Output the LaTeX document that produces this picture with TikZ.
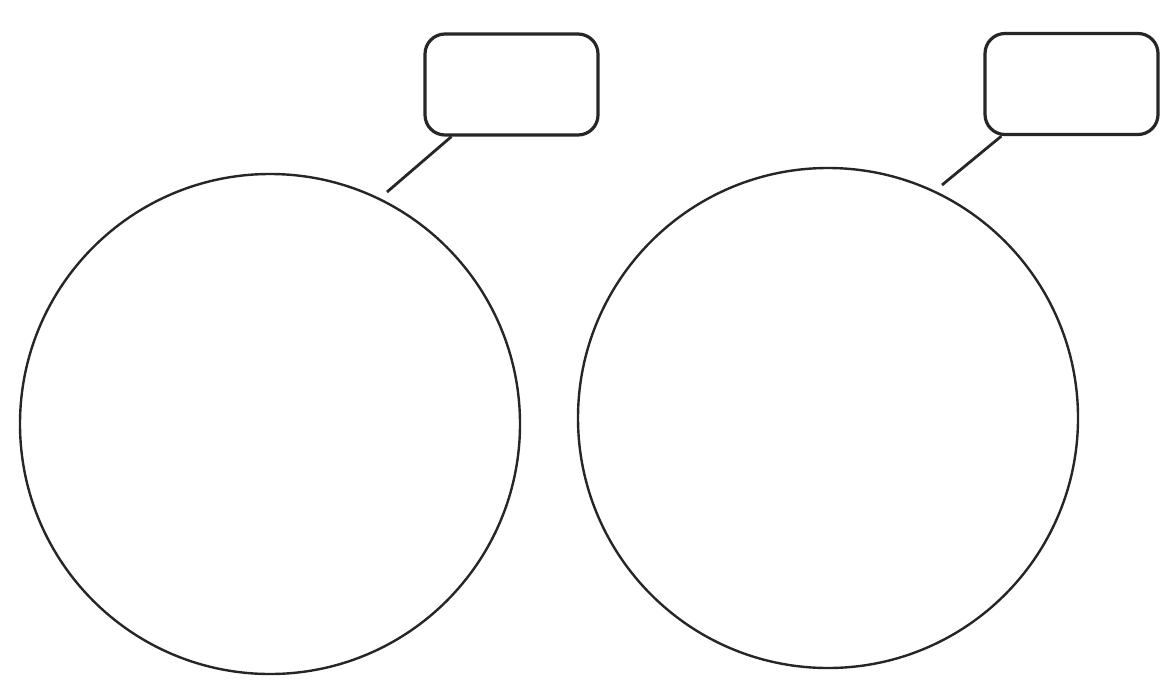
\documentclass[tikz,border=0pt]{standalone}
\begin{document}
\begin{tikzpicture}[x=0.5pt,y=-0.5pt,
  ring/.style={draw=black!85,line width=1.2pt,circle,inner sep=0pt,minimum size=250pt},
  tag/.style={draw=black!85,line width=1.6pt,rounded corners=10pt,inner sep=0pt,minimum width=86.5pt,minimum height=50.5pt},
  lead/.style={draw=black!85,line width=1.4pt}]
\useasboundingbox (0,0) rectangle (1160,680);
\node[ring] (cL) at (270,424) {};
\node[ring] (cR) at (828,418) {};
\node[tag] (bL) at (511.5,84.5) {};
\node[tag] (bR) at (1071.5,84) {};
\coordinate (tL) at (387,192);
\coordinate (tR) at (942,185);
\draw[lead] (tL) -- ([xshift=14pt]bL.south west);
\draw[lead] (tR) -- ([xshift=9pt]bR.south west);
\end{tikzpicture}
\end{document}
